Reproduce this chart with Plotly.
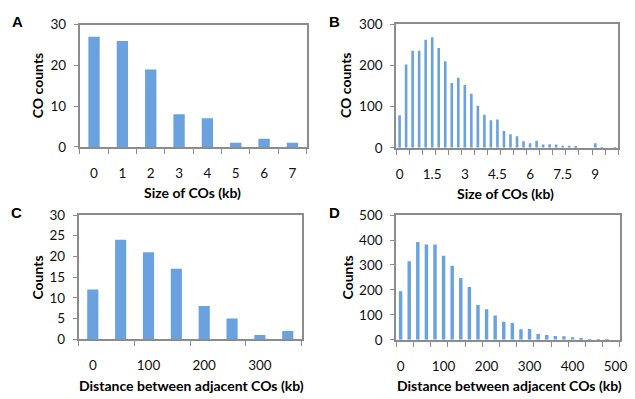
import plotly.graph_objects as go

# ---- data ----
a_counts = [27, 26, 19, 8, 7, 1, 2, 1]
a_tick_text = ["0", "1", "2", "3", "4", "5", "6", "7"]
a_label_every = 1

b_counts = [79, 202, 235, 235, 262, 268, 242, 210, 157, 170,
            152, 131, 102, 80, 67, 69, 41, 33, 28, 16,
            11, 17, 8, 9, 8, 5, 5, 3, 0, 0,
            11, 2, 0, 2]
b_tick_text = ["0", "1.5", "3", "4.5", "6", "7.5", "9"]
b_label_every = 5

c_counts = [12, 24, 21, 17, 8, 5, 1, 2]
c_tick_text = ["0", "100", "200", "300"]
c_label_every = 2

d_counts = [195, 315, 392, 382, 382, 337, 297, 248, 212, 140,
            123, 98, 72, 67, 42, 43, 23, 19, 15, 14,
            10, 7, 2, 1, 1, 0]
d_tick_text = ["0", "100", "200", "300", "400", "500"]
d_label_every = 5

panels = [
    dict(letter="A", counts=a_counts, ticks=a_tick_text, every=a_label_every, minor=1,
         ymax=30, dtick=10, ytitle="CO counts", xtitle="Size of COs (kb)",
         xdom=[80, 310], ydom=[17.3, 144.7], ytx=37, xtx=194, letx=17),
    dict(letter="B", counts=b_counts, ticks=b_tick_text, every=b_label_every, minor=2,
         ymax=300, dtick=100, ytitle="CO counts", xtitle="Size of COs (kb)",
         xdom=[401, 626], ydom=[16.7, 145.7], ytx=350, xtx=512, letx=338),
    dict(letter="C", counts=c_counts, ticks=c_tick_text, every=c_label_every, minor=2,
         ymax=30, dtick=5, ytitle="Counts", xtitle="Distance between adjacent COs (kb)",
         xdom=[79, 305], ydom=[215.7, 345], ytx=37, xtx=193, letx=16),
    dict(letter="D", counts=d_counts, ticks=d_tick_text, every=d_label_every, minor=2,
         ymax=500, dtick=100, ytitle="Counts", xtitle="Distance between adjacent COs (kb)",
         xdom=[401, 627.7], ydom=[215.7, 345.7], ytx=351, xtx=516, letx=338),
]

W, H = 635, 399
BAR = "#6aa1df"
GRAY = "#8c8c8c"
FONT = "Lato"

fig = go.Figure()
annotations = []
for i, p in enumerate(panels):
    n = len(p["counts"])
    idx = list(range(n))
    xa = "x" if i == 0 else f"x{i+1}"
    ya = "y" if i == 0 else f"y{i+1}"
    fig.add_trace(go.Bar(x=idx, y=p["counts"], xaxis=xa, yaxis=ya, width=0.4,
                         marker=dict(color=BAR, line=dict(width=0)), showlegend=False))
    xkey = "xaxis" if i == 0 else f"xaxis{i+1}"
    ykey = "yaxis" if i == 0 else f"yaxis{i+1}"
    label_pos = [k * p["every"] for k in range(len(p["ticks"]))]
    minor_pos = [b - 0.5 for b in range(0, n + 1, p["minor"])]
    fig.update_layout(**{
        xkey: dict(domain=[p["xdom"][0] / W, p["xdom"][1] / W], anchor=ya,
                   range=[-0.5, n - 0.5], tickmode="array", tickvals=label_pos,
                   ticktext=p["ticks"], ticks="outside", ticklen=13,
                   tickcolor="rgba(0,0,0,0)", showgrid=False, zeroline=False,
                   showline=True, mirror=True, linecolor=GRAY, linewidth=2,
                   ticklabeloverflow="allow",
                   tickfont=dict(family=FONT, size=13.5, color="#111"),
                   minor=dict(tickmode="array", tickvals=minor_pos, ticks="outside",
                              ticklen=5, tickcolor=GRAY, tickwidth=1, showgrid=False)),
        ykey: dict(domain=[1 - p["ydom"][1] / H, 1 - p["ydom"][0] / H], anchor=xa,
                   range=[0, p["ymax"]], dtick=p["dtick"], ticks="outside", ticklen=4,
                   tickcolor=GRAY, showgrid=False, zeroline=False,
                   showline=True, mirror=True, linecolor=GRAY, linewidth=2,
                   ticklabelstandoff=5,
                   tickfont=dict(family=FONT, size=13.5, color="#111")),
    })
    ycen = (p["ydom"][0] + p["ydom"][1]) / 2
    annotations.append(dict(text=p["ytitle"], x=p["ytx"] / W, y=1 - ycen / H,
                            xref="paper", yref="paper", textangle=-90, showarrow=False,
                            xanchor="center", yanchor="middle",
                            font=dict(family=FONT, size=14, color="#000", weight="bold")))
    annotations.append(dict(text=p["xtitle"], x=p["xtx"] / W, y=1 - (p["ydom"][1] + 48) / H,
                            xref="paper", yref="paper", showarrow=False,
                            xanchor="center", yanchor="middle",
                            font=dict(family=FONT, size=14, color="#000", weight="bold")))
    annotations.append(dict(text=p["letter"], x=p["letx"] / W, y=1 - (p["ydom"][0] - 3) / H,
                            xref="paper", yref="paper", showarrow=False,
                            xanchor="center", yanchor="middle",
                            font=dict(family="Liberation Sans", size=15, color="#000",
                                      weight="bold")))

fig.update_layout(width=W, height=H, margin=dict(l=0, r=0, t=0, b=0),
                  paper_bgcolor="white", plot_bgcolor="white",
                  annotations=annotations, bargap=0.6)
fig.write_html("out.html")
